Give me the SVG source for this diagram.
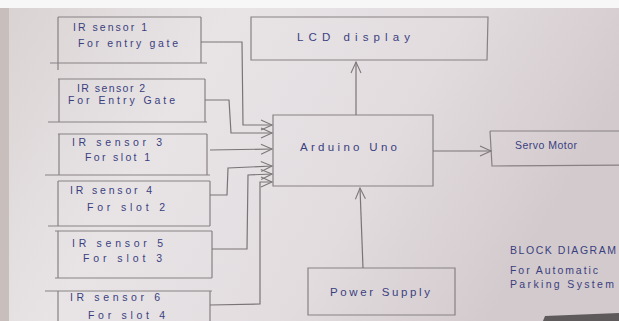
<svg xmlns="http://www.w3.org/2000/svg" width="619" height="321" viewBox="0 0 619 321">
<defs>
<linearGradient id="paper" x1="0" y1="0" x2="1" y2="0.3">
<stop offset="0" stop-color="#d9d2d2"/>
<stop offset="0.35" stop-color="#e8e4e6"/>
<stop offset="0.7" stop-color="#e2dcdf"/>
<stop offset="1" stop-color="#d3cacd"/>
</linearGradient>
<marker id="arr" markerWidth="14" markerHeight="12" refX="12" refY="6" orient="auto" markerUnits="userSpaceOnUse">
<path d="M1,1 L12,6 L1,11" fill="none" stroke="#7e7879" stroke-width="1.1"/>
</marker>
<style>
.box{fill:none;stroke:#878183;stroke-width:1.2}
.con{fill:none;stroke:#7a7476;stroke-width:1.2}
.t{font-family:"Liberation Sans","DejaVu Sans",sans-serif;font-size:10.5px;fill:#3a3f80}
.tb{font-family:"Liberation Sans","DejaVu Sans",sans-serif;font-size:11.5px;fill:#3a3f80}
</style>
</defs>
<rect x="0" y="0" width="619" height="321" fill="url(#paper)"/>
<rect x="0" y="0" width="619" height="8" fill="#f7f7f7"/>
<rect x="0" y="8" width="9" height="313" fill="#c8bfbd"/>
<path d="M545,316 L619,313 L619,321 L543,321 Z" fill="#5e5a5c"/>

<g id="sensor1">
<path class="box" d="M58,17 L201,17 M58,17 L58,70 M201,17 L201,63 M50,63 L207,63"/>
<text class="t" x="73" y="31" textLength="74" lengthAdjust="spacing">IR sensor 1</text>
<text class="t" x="78" y="47" textLength="100" lengthAdjust="spacing">For entry gate</text>
</g>
<g id="sensor2">
<path class="box" d="M58,79 L205,79 M59,79 L59,122 M205,79 L205,122 M48,122 L207,122"/>
<text class="t" x="77" y="92" textLength="68" lengthAdjust="spacing">IR sensor 2</text>
<text class="t" x="68" y="104" textLength="107" lengthAdjust="spacing">For Entry Gate</text>
</g>
<g id="sensor3">
<path class="box" d="M58,134 L207,134 M59,134 L59,175 M207,134 L207,175 M45,175 L210,175"/>
<text class="t" x="72" y="146" textLength="90" lengthAdjust="spacing">IR sensor 3</text>
<text class="t" x="85" y="161" textLength="65" lengthAdjust="spacing">For slot 1</text>
</g>
<g id="sensor4">
<path class="box" d="M58,181 L210,181 M58,181 L58,226 M210,181 L210,226 M48,226 L210,226"/>
<text class="t" x="70" y="194" textLength="82" lengthAdjust="spacing">IR sensor 4</text>
<text class="t" x="87" y="211" textLength="78" lengthAdjust="spacing">For slot 2</text>
</g>
<g id="sensor5">
<path class="box" d="M55,231 L212,231 M58,231 L58,278 M212,231 L212,278 M55,278 L212,278"/>
<text class="t" x="72" y="247" textLength="91" lengthAdjust="spacing">IR sensor 5</text>
<text class="t" x="83" y="262" textLength="79" lengthAdjust="spacing">For slot 3</text>
</g>
<g id="sensor6">
<path class="box" d="M45,291 L212,291 M58,291 L58,321 M210,291 L210,321"/>
<text class="t" x="70" y="301" textLength="90" lengthAdjust="spacing">IR sensor 6</text>
<text class="t" x="88" y="319" textLength="77" lengthAdjust="spacing">For slot 4</text>
</g>

<g id="lcd">
<path class="box" d="M251,17 L488,17 L487,60 L251,60 Z"/>
<text class="tb" x="297" y="41" textLength="113" lengthAdjust="spacing">LCD display</text>
</g>
<g id="arduino">
<path class="box" d="M273,115 L433,115 L433,186 L273,186 Z"/>
<text class="tb" x="300" y="151" textLength="97" lengthAdjust="spacing">Arduino Uno</text>
</g>
<g id="servo">
<path class="box" d="M490,131 L625,131 M490,131 L492,166 L625,165"/>
<text class="t" x="515" y="149" textLength="62" lengthAdjust="spacing">Servo Motor</text>
</g>
<g id="power">
<path class="box" d="M308,268 L455,268 L455,315 L308,315 Z"/>
<text class="tb" x="330" y="296" textLength="100" lengthAdjust="spacing">Power Supply</text>
</g>
<g id="caption">
<text class="t" x="510" y="254" textLength="106" lengthAdjust="spacing">BLOCK DIAGRAM</text>
<text class="t" x="510" y="274" textLength="88" lengthAdjust="spacing">For Automatic</text>
<text class="t" x="510" y="288" textLength="104" lengthAdjust="spacing">Parking System</text>
</g>

<g id="connectors">
<path class="con" marker-end="url(#arr)" d="M201,42 L242,42 L243,125 L272,125"/>
<path class="con" marker-end="url(#arr)" d="M205,100 L229,100 L231,133 L272,133"/>
<path class="con" marker-end="url(#arr)" d="M210,150 L272,149"/>
<path class="con" marker-end="url(#arr)" d="M210,195 L227,195 L228,168 L272,166"/>
<path class="con" marker-end="url(#arr)" d="M212,249 L247,249 L248,175 L272,174"/>
<path class="con" marker-end="url(#arr)" d="M210,305 L260,304 L260,182 L272,182"/>
<path class="con" marker-end="url(#arr)" d="M356,115 L356,62"/>
<path class="con" marker-end="url(#arr)" d="M433,151 L491,151"/>
<path class="con" marker-end="url(#arr)" d="M363,268 L360,188"/>
</g>
</svg>
